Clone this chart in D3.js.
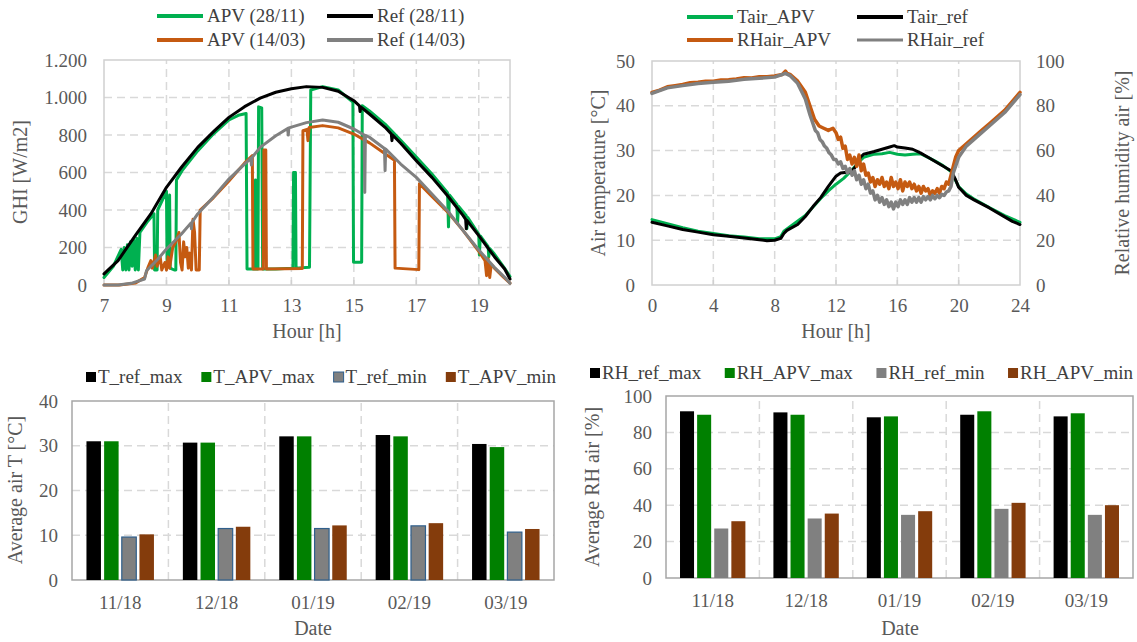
<!DOCTYPE html>
<html>
<head>
<meta charset="utf-8">
<script src="https://d3js.org/d3.v7.min.js"></script>
<style>
  body { margin: 0; background: #fff; }
  svg text { font-family: "Liberation Serif", "Times New Roman", serif; }
  .axis path, .axis line { display: none; }
  .grid { stroke: #d9d9d9; stroke-width: 1.5; stroke-dasharray: 8,5; }
  .title { fill: #595959; font-size: 20px; text-anchor: middle; }
  .leg { fill: #404040; font-size: 19px; }
  path.series { fill: none; stroke-linejoin: round; stroke-linecap: round; }
</style>
</head>
<body>
<svg id="chart" width="1137" height="642"></svg>
<script>
// ---- GHI panel (hour, W/m2) ----
var ghiHourTicks = [7, 9, 11, 13, 15, 17, 19];
var ghiTicks = [0, 200, 400, 600, 800, 1000, 1200];
var ghiTickLabels = ["0", "200", "400", "600", "800", "1.000", "1.200"];

var apv2811 = [[7.0,40],[7.3,100],[7.55,190],[7.6,80],[7.65,200],[7.7,80],[7.75,215],[7.8,80],[7.85,230],
  [7.9,100],[7.95,240],[8.0,80],[8.05,250],[8.1,80],[8.15,280],[8.4,340],[8.6,380],[8.62,80],[8.7,80],
  [8.72,400],[9.0,500],[9.02,120],[9.1,480],[9.12,90],[9.25,80],[9.3,80],[9.32,560],[9.5,610],[10.0,715],
  [10.5,805],[11.0,880],[11.3,905],[11.55,915],[11.58,85],[11.84,85],[11.85,560],[11.87,85],[11.93,85],
  [11.95,950],[12.05,945],[12.08,85],[12.5,85],[13.05,90],[13.07,600],[13.13,600],[13.15,90],[13.58,95],
  [13.62,1040],[14.0,1058],[14.5,1040],[14.97,975],[14.99,121],[15.25,121],[15.27,956],[15.5,928],
  [16.0,858],[16.5,772],[17.0,682],[17.5,592],[18.0,492],[18.03,310],[18.06,480],[18.3,430],[18.32,330],
  [18.35,420],[18.6,370],[18.62,300],[18.65,360],[19.0,270],[19.02,160],[19.05,262],[19.3,205],[19.32,150],
  [19.35,195],[19.5,165],[19.8,95],[20.0,45]];
var ref2811 = [[7.0,59],[7.45,130],[8.0,263],[8.5,379],[9.0,521],[9.48,628],[10.0,734],[10.54,823],
  [11.0,894],[11.5,951],[12.0,997],[12.5,1028],[13.0,1047],[13.48,1058],[14.0,1054],[14.5,1033],
  [15.0,983],[15.18,955],[15.2,925],[15.22,950],[15.5,912],[16.0,841],[16.2,805],[16.22,770],[16.24,800],
  [16.5,756],[17.0,663],[17.5,574],[18.0,476],[18.5,370],[18.58,350],[18.6,300],[18.62,345],[19.0,263],
  [19.5,151],[19.83,85],[20.0,32]];
var apv1403 = [[7.0,0],[7.5,0],[8.0,10],[8.3,40],[8.4,90],[8.5,130],[8.55,90],[8.65,160],[8.7,100],
  [8.8,150],[8.85,80],[8.95,120],[9.0,80],[9.05,150],[9.1,90],[9.2,200],[9.3,230],[9.4,280],[9.45,120],
  [9.5,80],[9.55,230],[9.6,150],[9.65,200],[9.7,90],[9.75,170],[9.8,80],[9.85,350],[9.9,280],[9.95,80],
  [10.05,80],[10.08,400],[10.5,465],[11.0,555],[11.5,650],[11.75,690],[11.77,85],[12.1,85],[12.12,720],
  [12.18,720],[12.2,85],[13.35,88],[13.37,823],[13.5,830],[13.53,770],[13.57,840],[14.0,850],[14.5,838],
  [15.0,805],[15.5,758],[16.0,700],[16.3,665],[16.32,90],[17.08,82],[17.1,540],[17.5,472],[18.0,390],
  [18.5,290],[19.0,180],[19.2,130],[19.25,50],[19.3,140],[19.35,40],[19.4,110],[19.5,90],[19.8,40],[20.0,10]];
var ref1403 = [[7.0,0],[7.45,0],[7.87,9],[8.3,32],[8.36,76],[8.73,139],[9.0,192],[9.48,272],[9.78,330],
  [9.8,300],[9.82,335],[10.0,379],[10.54,476],[11.0,565],[11.5,645],[11.7,675],[11.72,640],[11.74,680],
  [12.0,734],[12.5,796],[12.88,835],[12.9,800],[12.92,838],[13.48,866],[14.0,880],[14.5,868],[15.0,832],
  [15.33,800],[15.35,494],[15.37,798],[15.5,788],[15.98,728],[16.0,610],[16.02,725],[16.5,645],[17.0,574],
  [17.5,485],[18.0,396],[18.5,290],[19.0,187],[19.5,94],[19.83,41],[20.0,9]];

// ---- Air temperature / RH panel (hour, degC or %) ----
var dayHourTicks = [0, 4, 8, 12, 16, 20, 24];
var tairTicks = [0, 10, 20, 30, 40, 50];
var rhTicks = [0, 20, 40, 60, 80, 100];

var tairApv = [[0,14.6],[1,13.7],[2,12.8],[3,12.0],[4,11.5],[5,11.0],[6,10.7],[7,10.3],[8,10.3],[8.4,10.8],
  [8.6,12.0],[9,13.0],[10,15.5],[11,19.3],[11.5,21.0],[12,22.5],[12.5,23.8],[13,25.5],[13.5,27.5],[13.8,28.5],
  [14.5,29.2],[15,29.3],[15.5,29.6],[16,29.2],[16.5,29.0],[17,29.2],[17.5,29.3],[18,28.5],[18.5,27.6],
  [19,26.6],[19.5,25.3],[20,22.0],[20.5,20.3],[21,19.2],[22,17.3],[23,15.5],[24,14.0]];
var tairRef = [[0,14.0],[1,13.2],[2,12.4],[3,11.8],[4,11.2],[5,10.9],[6,10.5],[7,10.1],[7.5,9.9],[8,10.0],
  [8.4,10.4],[8.6,11.5],[8.8,12.2],[9.5,13.5],[10,15.3],[10.5,17.5],[11,19.5],[11.5,22.0],[12,24.3],
  [12.3,25.0],[13,25.3],[13.3,26.5],[13.6,28.5],[13.8,29.2],[14.5,29.8],[15,30.3],[15.5,30.8],[15.8,31.1],
  [16,30.8],[16.5,30.6],[17,30.3],[17.5,29.5],[18,28.5],[18.5,27.5],[19,26.5],[19.5,25.5],[19.8,23.5],
  [20,21.8],[20.5,20.0],[21,19.0],[22,17.2],[23,15.2],[23.5,14.2],[24,13.5]];
var rhApv = [[0,86],[0.5,87],[1,88.5],[1.5,89],[2,89.5],[2.5,90.3],[3,90.5],[3.5,91],[4,91],[4.5,91.5],
  [5,91.6],[5.5,92],[6,92.5],[6.5,92.4],[7,93],[7.5,93],[8,93.3],[8.5,94],[8.7,95.5],[8.8,94.5],[9,94],
  [9.5,91],[10,86],[10.3,80],[10.6,74],[10.9,71],[11.2,70],[11.5,69],[11.8,70],
  [12.0,68],[12.15,65],[12.3,66],[12.45,61],[12.6,62],[12.75,56],[12.9,58],[13.05,54],[13.2,57],[13.35,53],
  [13.5,58],[13.65,51],[13.8,54],[13.95,49],[14.1,50],[14.25,46],[14.4,48],[14.55,44],[14.7,47],[14.85,45],
  [15.0,48],[15.15,44],[15.3,46],[15.45,43],[15.6,48],[15.75,44],[15.9,46],[16.05,43],[16.2,47],[16.35,42],
  [16.5,46],[16.65,44],[16.8,46],[16.95,43],[17.1,45],[17.25,42],[17.4,44],[17.55,41],[17.7,44],[17.85,42],
  [18.0,43],[18.15,40],[18.3,42],[18.45,41],[18.6,43],[18.75,41],[18.9,44],[19.05,43],[19.2,46],[19.35,45],
  [19.5,49],[19.65,53],[19.8,57],[20,60],[20.5,63],[21,66],[21.5,69],[22,72],[22.5,75],[23,78],[23.5,82],[24,86]];
var rhRef = [[0,85.5],[1,88],[2,89],[3,90],[4,90.5],[5,91],[6,91.8],[7,92.3],[8,92.8],[8.7,94.5],[9,93.5],
  [9.5,90],[10,83],[10.3,76],[10.5,72],[10.65,69],[10.8,68],[10.95,65],[11.1,64],[11.25,62],[11.4,61],
  [11.55,59],[11.7,58],[11.85,56],[12.0,56],[12.15,54],[12.3,55],[12.45,52],[12.6,53],[12.75,50],[12.9,52],
  [13.05,49],[13.2,51],[13.35,47],[13.5,49],[13.65,45],[13.8,47],[13.95,43],[14.1,45],[14.25,41],[14.4,42],
  [14.55,38],[14.7,40],[14.85,37],[15.0,39],[15.15,36],[15.3,38],[15.45,35],[15.6,37],[15.75,34],[15.9,37],
  [16.05,35],[16.2,38],[16.35,36],[16.5,38],[16.65,36],[16.8,39],[16.95,37],[17.1,39],[17.25,37],[17.4,39],
  [17.55,37],[17.7,39.5],[17.85,38],[18.0,39.5],[18.15,38],[18.3,40],[18.45,38.5],[18.6,40],[18.75,39],
  [18.9,40.5],[19.05,40],[19.2,41.5],[19.35,42],[19.5,44],[19.65,50],[20,57],[20.5,62],[21,65],[21.5,68],
  [22,71],[22.5,74],[23,77],[23.5,81],[24,85]];

// ---- monthly bars ----
var months = ["11/18", "12/18", "01/19", "02/19", "03/19"];
var tRefMax = [31.0, 30.7, 32.1, 32.4, 30.4];
var tApvMax = [31.0, 30.7, 32.1, 32.1, 29.7];
var tRefMin = [9.6, 11.5, 11.5, 12.1, 10.7];
var tApvMin = [10.2, 11.9, 12.2, 12.7, 11.4];
var tBarTicks = [0, 10, 20, 30, 40];
var rhRefMax = [91.6, 91.0, 88.3, 89.7, 88.8];
var rhApvMax = [89.7, 89.7, 88.8, 91.6, 90.5];
var rhRefMin = [27.2, 32.7, 34.7, 38.0, 34.7];
var rhApvMin = [31.2, 35.4, 36.7, 41.3, 40.0];
var rhBarTicks = [0, 20, 40, 60, 80, 100];

var green = "#00b050", orange = "#c55a11", grey = "#808080";
var serif = '"Liberation Serif", "Times New Roman", serif';

var svg = d3.select("#chart");

// d3 axes put a sans-serif font on their group, so restyle the labels inline
function styleAxis(g) {
  g.attr("font-family", null).attr("font-size", null);
  g.selectAll("text")
      .style("font-family", serif)
      .style("font-size", "19px")
      .style("fill", "#595959");
}

function frame(g, x, y, xGrid, yGrid, border) {
  g.selectAll(".hg").data(yGrid).enter().append("line")
      .attr("class", "grid")
      .attr("x1", x.range()[0]).attr("x2", x.range()[1])
      .attr("y1", d => y(d)).attr("y2", d => y(d));
  g.selectAll(".vg").data(xGrid).enter().append("line")
      .attr("class", "grid")
      .attr("x1", d => x(d)).attr("x2", d => x(d))
      .attr("y1", y.range()[0]).attr("y2", y.range()[1]);
  g.append("rect")
      .attr("x", x.range()[0]).attr("y", y.range()[1])
      .attr("width", x.range()[1] - x.range()[0])
      .attr("height", y.range()[0] - y.range()[1])
      .attr("fill", "none").attr("stroke", border).attr("stroke-width", 1.5);
}

function title(x, y, text, rot) {
  svg.append("text").attr("class", "title")
      .attr("transform", "translate(" + x + "," + y + ")" + (rot ? " rotate(-90)" : ""))
      .attr("dy", "0.35em")
      .text(text);
}

function lineLegend(items, x0, x1, rows) {
  items.forEach(function(it, i) {
    var lx = i % 2 == 0 ? x0 : x1, ly = rows[Math.floor(i / 2)];
    svg.append("line").attr("x1", lx).attr("x2", lx + 46).attr("y1", ly).attr("y2", ly)
        .attr("stroke", it.color).attr("stroke-width", it.w || 4);
    svg.append("text").attr("class", "leg").attr("x", lx + 50).attr("y", ly).attr("dy", "0.33em").text(it.name);
  });
}

// ---------- panel 1: GHI ----------
var x1 = d3.scaleLinear().domain([7, 20]).range([104, 510]);
var y1 = d3.scaleLinear().domain([0, 1200]).range([285, 60]);
var p1 = svg.append("g");
frame(p1, x1, y1, [9, 11, 13, 15, 17, 19], [200, 400, 600, 800, 1000], "#d0d0d0");
p1.selectAll(".tk").data(ghiHourTicks.slice(1)).enter().append("line")
    .attr("x1", d => x1(d)).attr("x2", d => x1(d)).attr("y1", 285).attr("y2", 280)
    .attr("stroke", "#d0d0d0").attr("stroke-width", 1.5);
p1.append("g").attr("class", "axis").attr("transform", "translate(0,285)")
    .call(d3.axisBottom(x1).tickValues(ghiHourTicks).tickSize(0).tickPadding(14).tickFormat(d3.format("d")))
    .call(styleAxis);
p1.append("g").attr("class", "axis").attr("transform", "translate(104,0)")
    .call(d3.axisLeft(y1).tickValues(ghiTicks).tickSize(0).tickPadding(17)
      .tickFormat((d, i) => ghiTickLabels[i]))
    .call(styleAxis);
var l1 = d3.line().x(d => x1(d[0])).y(d => y1(d[1]));
[[apv2811, green], [ref2811, "#000"], [apv1403, orange], [ref1403, grey]].forEach(function(s) {
  p1.append("path").datum(s[0]).attr("class", "series").attr("d", l1)
      .attr("stroke", s[1]).attr("stroke-width", 3);
});
title(20, 172, "GHI [W/m2]", true);
title(307, 331, "Hour [h]");
lineLegend([{name: "APV (28/11)", color: green}, {name: "Ref (28/11)", color: "#000"},
            {name: "APV (14/03)", color: orange}, {name: "Ref (14/03)", color: grey}], 157, 327, [16, 40]);

// ---------- panel 2: air temperature & RH ----------
var x2 = d3.scaleLinear().domain([0, 24]).range([652, 1020]);
var yT = d3.scaleLinear().domain([0, 50]).range([285, 61]);
var yR = d3.scaleLinear().domain([0, 100]).range([285, 61]);
var p2 = svg.append("g");
frame(p2, x2, yT, [4, 8, 12, 16, 20], [10, 20, 30, 40], "#d0d0d0");
p2.selectAll(".tk").data(dayHourTicks.slice(1, -1)).enter().append("line")
    .attr("x1", d => x2(d)).attr("x2", d => x2(d)).attr("y1", 285).attr("y2", 280)
    .attr("stroke", "#d0d0d0").attr("stroke-width", 1.5);
p2.append("g").attr("class", "axis").attr("transform", "translate(0,285)")
    .call(d3.axisBottom(x2).tickValues(dayHourTicks).tickSize(0).tickPadding(14).tickFormat(d3.format("d")))
    .call(styleAxis);
p2.append("g").attr("class", "axis").attr("transform", "translate(652,0)")
    .call(d3.axisLeft(yT).tickValues(tairTicks).tickSize(0).tickPadding(17))
    .call(styleAxis);
p2.append("g").attr("class", "axis").attr("transform", "translate(1020,0)")
    .call(d3.axisRight(yR).tickValues(rhTicks).tickSize(0).tickPadding(16))
    .call(styleAxis);
var lT = d3.line().x(d => x2(d[0])).y(d => yT(d[1]));
var lR = d3.line().x(d => x2(d[0])).y(d => yR(d[1]));
p2.append("path").datum(tairApv).attr("class", "series").attr("d", lT).attr("stroke", green).attr("stroke-width", 3);
p2.append("path").datum(tairRef).attr("class", "series").attr("d", lT).attr("stroke", "#000").attr("stroke-width", 3);
p2.append("path").datum(rhApv).attr("class", "series").attr("d", lR).attr("stroke", orange).attr("stroke-width", 3.5);
p2.append("path").datum(rhRef).attr("class", "series").attr("d", lR).attr("stroke", grey).attr("stroke-width", 3.5);
title(598, 173, "Air temperature [°C]", true);
title(1122, 173, "Relative humidity air [%]", true);
title(836, 331, "Hour [h]");
lineLegend([{name: "Tair_APV", color: green}, {name: "Tair_ref", color: "#000"},
            {name: "RHair_APV", color: orange}, {name: "RHair_ref", color: grey, w: 3}], 687, 857, [17, 40]);

// ---------- bar panels ----------
function barPanel(opts) {
  var g = svg.append("g");
  var x = d3.scaleBand().domain(months).range(opts.xr);
  var y = d3.scaleLinear().domain([0, opts.max]).range(opts.yr);
  var xs = d3.scaleBand().domain(d3.range(4))
      .range([x.bandwidth() * 0.15, x.bandwidth() * 0.85]).paddingInner(0.18);
  var bounds = months.slice(1).map(m => x(m));
  g.selectAll(".hg").data(opts.ticks.slice(1, -1)).enter().append("line")
      .attr("class", "grid").attr("x1", opts.xr[0]).attr("x2", opts.xr[1])
      .attr("y1", d => y(d)).attr("y2", d => y(d));
  g.selectAll(".vg").data(bounds).enter().append("line")
      .attr("class", "grid").attr("x1", d => d).attr("x2", d => d)
      .attr("y1", opts.yr[0]).attr("y2", opts.yr[1]);
  g.append("rect").attr("x", opts.xr[0]).attr("y", opts.yr[1])
      .attr("width", opts.xr[1] - opts.xr[0]).attr("height", opts.yr[0] - opts.yr[1])
      .attr("fill", "none").attr("stroke", "#a6a6a6").attr("stroke-width", 1.5);
  opts.series.forEach(function(s, si) {
    g.selectAll(".b" + si).data(s.values).enter().append("rect")
        .attr("x", (d, i) => x(months[i]) + xs(si))
        .attr("width", xs.bandwidth())
        .attr("y", d => y(d)).attr("height", d => y(0) - y(d))
        .attr("fill", s.color)
        .attr("stroke", s.stroke || "none").attr("stroke-width", 1.2);
  });
  g.append("g").attr("class", "axis").attr("transform", "translate(0," + opts.yr[0] + ")")
      .call(d3.axisBottom(x).tickSize(0).tickPadding(16))
      .call(styleAxis);
  g.append("g").attr("class", "axis").attr("transform", "translate(" + opts.xr[0] + ",0)")
      .call(d3.axisLeft(y).tickValues(opts.ticks).tickSize(0).tickPadding(14))
      .call(styleAxis);
  // legend
  var lg = svg.append("g"), lx = opts.legX[0], widths = [];
  opts.series.forEach(function(s) {
    var t = lg.append("text").attr("class", "leg").attr("y", opts.legY).attr("dy", "0.33em").text(s.name);
    widths.push(t.node().getComputedTextLength());
  });
  var gap = (opts.legX[1] - opts.legX[0] - d3.sum(widths) - 4 * 12) / 3;
  lg.selectAll("text").each(function(d, i) {
    var s = opts.series[i];
    lg.append("rect").attr("x", lx).attr("y", opts.legY - 5).attr("width", 10).attr("height", 10)
        .attr("fill", s.color).attr("stroke", s.stroke || "none");
    d3.select(this).attr("x", lx + 12);
    lx += 12 + widths[i] + gap;
  });
}

barPanel({
  xr: [72, 554], yr: [580, 401], max: 40, ticks: tBarTicks,
  legX: [86, 556], legY: 377,
  series: [
    {name: "T_ref_max", values: tRefMax, color: "#000"},
    {name: "T_APV_max", values: tApvMax, color: "#008000"},
    {name: "T_ref_min", values: tRefMin, color: grey, stroke: "#2f5f8c"},
    {name: "T_APV_min", values: tApvMin, color: "#843c0c"}
  ]
});
title(15, 490, "Average air T [°C]", true);
title(313, 628, "Date");

barPanel({
  xr: [666, 1133], yr: [578, 396], max: 100, ticks: rhBarTicks,
  legX: [590, 1133], legY: 373,
  series: [
    {name: "RH_ref_max", values: rhRefMax, color: "#000"},
    {name: "RH_APV_max", values: rhApvMax, color: "#008000"},
    {name: "RH_ref_min", values: rhRefMin, color: grey},
    {name: "RH_APV_min", values: rhApvMin, color: "#843c0c"}
  ]
});
title(592, 487, "Average RH air [%]", true);
title(900, 628, "Date");
</script>
</body>
</html>
